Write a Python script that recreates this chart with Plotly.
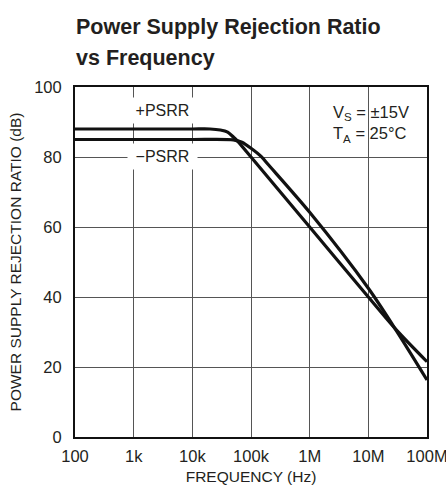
import plotly.graph_objects as go

# ---- data ----
freq_pos = [100, 1e3, 1e4, 2e4, 3e4, 4e4, 5e4, 6e4, 1e5, 1e6, 1e7, 3e7, 1e8]
psrr_pos = [88, 88, 88, 88, 87.7, 87.1, 85.7, 84.4, 80, 60, 40, 30.6, 21.5]

freq_neg = [100, 1e3, 1e4, 5e4, 7e4, 1e5, 1.5e5, 2e5, 1e6, 1e7, 3e7, 1e8]
psrr_neg = [85, 85, 85, 84.9, 84.2, 82.5, 80.1, 77.7, 64.2, 42.5, 30.4, 16.3]

x_tickvals = [1e2, 1e3, 1e4, 1e5, 1e6, 1e7, 1e8]
x_ticktext = ["100", "1k", "10k", "100k", "1M", "10M", "100M"]
y_tickvals = [0, 20, 40, 60, 80, 100]

W, H = 446, 491
L, R, T, B = 75, 19, 87, 54
TXT = "#231f20"
FONT = "Liberation Sans, Arial, sans-serif"

fig = go.Figure()
for fx, fy in ((freq_pos, psrr_pos), (freq_neg, psrr_neg)):
    fig.add_trace(go.Scatter(
        x=fx, y=fy, mode="lines",
        line=dict(color="#111111", width=3.2, shape="spline", smoothing=0.8),
        showlegend=False, hoverinfo="skip"))

pw = W - L - R
ph = H - T - B


def px(xpix):
    return (xpix - L) / pw


def py(ypix):
    return (H - B - ypix) / ph


# title lines
for txt, yc in (("Power Supply Rejection Ratio", 26.5), ("vs Frequency", 57.5)):
    fig.add_annotation(
        xref="paper", yref="paper", x=px(73.5), y=py(yc), text="<b>%s</b>" % txt,
        showarrow=False, xanchor="left", yanchor="middle",
        font=dict(family=FONT, size=21.5, color=TXT))

annots = [
    dict(text="+PSRR", x=px(162.5), y=py(110.5)),
    dict(text="\u2212PSRR", x=px(162.5), y=py(156.5)),
]
for a in annots:
    fig.add_annotation(
        xref="paper", yref="paper", x=a["x"], y=a["y"], text=a["text"],
        showarrow=False, xanchor="center", yanchor="middle",
        width=67, height=23, bgcolor="white", borderpad=1,
        font=dict(family=FONT, size=16, color=TXT))

fig.add_annotation(
    xref="paper", yref="paper", x=px(331), y=py(124),
    text="V<sub>S</sub> = \u00b115V<br>T<sub>A</sub> = 25\u00b0C",
    showarrow=False, xanchor="left", yanchor="middle", align="left",
    font=dict(family=FONT, size=16.5, color=TXT))

fig.update_layout(
    width=W, height=H,
    margin=dict(l=L, r=R, t=T, b=B, autoexpand=False),
    paper_bgcolor="white", plot_bgcolor="white",
    xaxis=dict(
        type="log", range=[2, 8], tickvals=x_tickvals, ticktext=x_ticktext,
        showgrid=True, gridcolor="#555555", gridwidth=1.3,
        showline=True, linecolor="#111111", linewidth=2, mirror=True,
        ticks="", zeroline=False, ticklabelstandoff=3,
        ticklabeloverflow="allow",
        tickfont=dict(family=FONT, size=16.5, color=TXT),
        title=dict(text="FREQUENCY (Hz)", standoff=7,
                   font=dict(family=FONT, size=15.5, color=TXT))),
    yaxis=dict(
        range=[0, 100], tickvals=y_tickvals,
        showgrid=True, gridcolor="#555555", gridwidth=1.3,
        showline=True, linecolor="#111111", linewidth=2, mirror=True,
        ticks="", zeroline=False, ticklabelstandoff=8,
        tickfont=dict(family=FONT, size=16.5, color=TXT),
        title=dict(text="POWER SUPPLY REJECTION RATIO (dB)", standoff=9,
                   font=dict(family=FONT, size=15.5, color=TXT))),
)

fig.write_html(
    "out.html",
    config={"displayModeBar": False},
    post_script="document.body.style.margin='0';document.body.style.overflow='hidden';")
